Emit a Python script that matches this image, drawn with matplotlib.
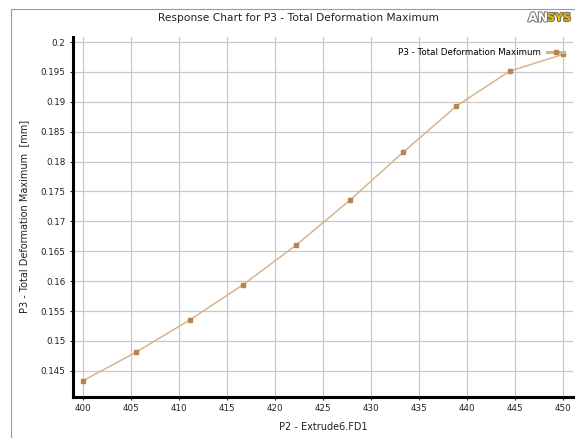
import matplotlib.pyplot as plt
import matplotlib.patheffects as pe
from matplotlib.patches import Rectangle

# Response values
extrude_fd1 = [400.0, 405.56, 411.11, 416.67, 422.22, 427.78, 433.33, 438.89, 444.44, 450.0]
deformation = [0.14334, 0.14814, 0.15350, 0.15940, 0.16604, 0.17351, 0.18154, 0.18928, 0.19513, 0.19793]
x_ticks = [400, 405, 410, 415, 420, 425, 430, 435, 440, 445, 450]
y_ticks = [0.145, 0.15, 0.155, 0.16, 0.165, 0.17, 0.175, 0.18, 0.185, 0.19, 0.195, 0.2]
y_tick_labels = ['0.145', '0.15', '0.155', '0.16', '0.165', '0.17', '0.175', '0.18', '0.185', '0.19', '0.195', '0.2']

text_col = '#222222'

fig = plt.figure(figsize=(5.75, 4.38), dpi=100)
fig.patch.set_facecolor('white')

# outer frame of the chart window
fig.add_artist(Rectangle((11 / 575, -0.05), 1.0, 1 - 9 / 438 + 0.05, transform=fig.transFigure,
                         fill=False, edgecolor='#9a9a9a', linewidth=0.8))

ax = fig.add_axes([73 / 575, (438 - 396.7) / 438, 500 / 575, (396.7 - 37) / 438])
ax.plot(extrude_fd1, deformation, color='#d8b48e', linewidth=1.1, marker='s', markersize=3.3,
        markerfacecolor='#b8834f', markeredgecolor='#b8834f',
        label='P3 - Total Deformation Maximum')

ax.set_xlim(398.96, 451.04)
ax.set_ylim(0.14067, 0.20084)
ax.set_xticks(x_ticks)
ax.set_xticklabels([str(v) for v in x_ticks])
ax.set_yticks(y_ticks)
ax.set_yticklabels(y_tick_labels)
ax.grid(True, color='#c8c8c8', linewidth=0.9)
ax.set_axisbelow(True)

for s in ['top', 'right']:
    ax.spines[s].set_visible(False)
for s in ['left', 'bottom']:
    ax.spines[s].set_linewidth(2.2)
    ax.spines[s].set_color('black')
ax.tick_params(axis='both', labelsize=6.3, colors=text_col, length=2.5, width=0.8, pad=3)

ax.set_xlabel('P2 - Extrude6.FD1', fontsize=7, color=text_col, labelpad=6)
ax.set_ylabel('P3 - Total Deformation Maximum  [mm]', fontsize=7, color=text_col, labelpad=8)

leg = ax.legend(loc='upper right', fontsize=6.3, frameon=False, markerfirst=False,
                handlelength=2.0, borderaxespad=0.2, handletextpad=0.7,
                bbox_to_anchor=(0.993, 0.985))
for h in leg.legend_handles:
    h.set_linewidth(2.2)

fig.text(298 / 575, 1 - 18 / 438, 'Response Chart for P3 - Total Deformation Maximum',
         ha='center', va='center', fontsize=7.7, color=text_col)

# ANSYS logo
logo = fig.text(528 / 575, 1 - 18 / 438, 'AN', ha='left', va='center', fontsize=9,
                fontweight='bold', color='white')
logo.set_path_effects([pe.withStroke(linewidth=1.4, foreground='#707070')])
logo2 = fig.text(547 / 575, 1 - 18 / 438, 'SYS', ha='left', va='center', fontsize=8,
                 fontweight='bold', color='#e0b800')
logo2.set_path_effects([pe.withStroke(linewidth=1.4, foreground='#707070')])

fig.savefig('out.png', dpi=100)
